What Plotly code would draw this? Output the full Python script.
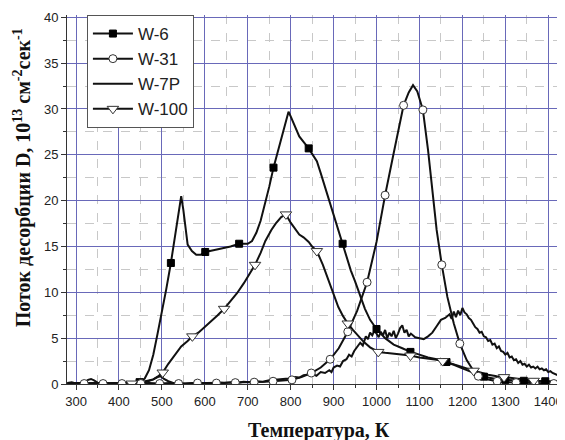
import plotly.graph_objects as go

# ---------------- data ----------------
W6_T = [280, 300, 320, 340, 360, 380, 400, 420, 440, 448, 460, 470, 480, 490, 500, 510, 521, 530, 538, 545,
        550, 555, 560, 570, 580, 590, 601, 620, 640, 660, 680, 700, 710, 720, 730, 740, 750, 760, 770, 780,
        790, 795, 800, 810, 820, 830, 842, 850, 861, 870, 880, 890, 900, 910, 921, 930, 940, 950, 960, 973,
        985, 1000, 1020, 1040, 1060, 1079, 1100, 1120, 1140, 1163, 1180, 1200, 1220, 1235, 1250, 1270, 1285,
        1300, 1320, 1343, 1370, 1393, 1420, 1440]
W6_D = [0.1, 0.05, 0.1, 0.05, 0.1, 0.05, 0.1, 0.1, 0.15, 0.2, 0.6, 1.5, 3.2, 5.5, 7.8, 10.3, 13.2, 15.8, 18.5, 20.5,
        19.0, 16.8, 15.2, 14.5, 14.1, 14.1, 14.4, 14.6, 14.8, 15.0, 15.3, 15.3, 15.6, 16.5, 17.8, 19.6, 21.5, 23.6, 25.4, 27.3,
        29.1, 29.7, 29.2, 28.0, 27.0, 26.4, 25.7, 25.1, 24.3, 23.0, 21.5, 20.0, 18.4, 16.8, 15.3, 13.8, 12.4, 11.2, 9.8, 8.2,
        7.0, 6.0, 5.0, 4.3, 3.9, 3.5, 3.2, 2.9, 2.7, 2.4, 2.1, 1.7, 1.3, 1.05, 0.8, 0.6, 0.5,
        0.45, 0.4, 0.35, 0.3, 0.3, 0.25, 0.2]
W6_MARK_T = [448, 521, 601, 680, 760, 842, 921, 1000, 1079, 1163, 1250, 1300, 1343, 1393]

W31_T = [280, 300, 319, 340, 363, 385, 407, 430, 451, 470, 495, 520, 539, 560, 583, 605, 627, 650, 671, 690,
         715, 740, 759, 780, 803, 825, 848, 870, 892, 912, 933, 955, 978, 1000, 1020, 1040, 1063, 1075, 1085, 1095,
         1108, 1120, 1130, 1140, 1152, 1165, 1180, 1194, 1210, 1225, 1237, 1260, 1281, 1300, 1325, 1350, 1369, 1390,
         1413, 1440]
W31_D = [0.05, 0.1, 0.05, 0.1, 0.05, 0.1, 0.05, 0.1, 0.05, 0.1, 0.05, 0.1, 0.05, 0.1, 0.1, 0.1, 0.1, 0.15, 0.15, 0.2,
         0.2, 0.25, 0.3, 0.35, 0.45, 0.75, 1.2, 1.8, 2.7, 3.9, 5.7, 8.0, 11.1, 15.5, 20.6, 25.2, 30.4, 31.8, 32.6, 31.9,
         29.9, 25.5, 21.0, 16.8, 13.0, 9.5, 6.6, 4.4, 2.6, 1.5, 0.85, 0.5, 0.3, 0.2, 0.15, 0.1, 0.1, 0.05,
         0.05, 0.05]
W31_MARK_T = [319, 363, 407, 451, 495, 539, 583, 627, 671, 715, 759, 803, 848, 892, 933, 978, 1020, 1063,
              1108, 1152, 1194, 1237, 1281, 1325, 1369, 1413]

W7P_T = [280, 290, 300, 310, 320, 328, 335, 342, 350, 360, 370, 380, 390, 400, 410, 420, 430, 440, 450, 460,
         470, 480, 490, 497, 505, 515, 525, 540, 555, 570, 585, 600, 615, 630, 645, 660, 675, 690, 705, 720,
         735, 750, 765, 780, 795, 810, 820, 830, 840, 850, 860, 870, 880, 890, 895, 900, 908, 915, 922, 930,
         936, 942, 948, 955, 962, 968, 975, 980, 985, 990, 995, 1000, 1005, 1010, 1015, 1020, 1025, 1030, 1035, 1040,
         1045, 1050, 1055, 1060, 1065, 1070, 1075, 1080, 1090, 1100, 1110, 1120, 1130, 1140, 1150, 1160, 1170, 1175,
         1180, 1185, 1190, 1195, 1200, 1205, 1210, 1215, 1220, 1225, 1230, 1235, 1240, 1245, 1250, 1255, 1260, 1265,
         1270, 1275, 1280, 1285, 1290, 1295, 1300, 1305, 1310, 1315, 1320, 1325, 1330, 1335, 1340, 1345, 1350, 1355,
         1360, 1365, 1370, 1375, 1380, 1385, 1390, 1395, 1400, 1405, 1410, 1420, 1430, 1440]
W7P_D = [0.1, 0.2, 0.05, 0.1, 0.15, 0.45, 0.55, 0.4, 0.15, 0.05, 0.1, 0.0, 0.1, 0.05, 0.1, 0.0, 0.1, 0.15, 0.2, 0.3,
         0.35, 0.5, 0.75, 0.85, 0.55, 0.3, 0.15, 0.1, 0.0, 0.1, 0.05, 0.1, 0.0, 0.15, 0.1, 0.2, 0.1, 0.25, 0.2, 0.3,
         0.25, 0.4, 0.45, 0.55, 0.6, 0.75, 0.7, 0.95, 1.0, 1.1, 0.9, 1.3, 1.2, 1.5, 1.3, 1.8, 2.0, 1.9, 2.5, 2.7,
         3.2, 3.0, 3.6, 4.1, 4.5, 4.2, 5.2, 4.9, 5.6, 5.3, 5.8, 5.5, 5.1, 5.7, 5.3, 5.9, 5.0, 5.6, 5.2, 5.8,
         5.0, 5.5, 6.1, 6.4, 5.6, 5.9, 5.2, 5.5, 5.1, 5.0, 4.9, 5.2, 5.6, 6.3, 7.0, 7.2, 7.6, 7.1,
         7.9, 7.3, 8.0, 7.5, 8.3, 7.8, 7.6, 7.2, 7.0, 6.6, 6.2, 6.0, 5.6, 5.7, 5.2, 5.1, 4.7, 4.8,
         4.3, 4.4, 3.9, 4.1, 3.6, 3.5, 3.2, 3.4, 2.9, 3.0, 2.6, 2.7, 2.3, 2.5, 2.1, 2.2, 1.9, 2.1,
         1.8, 1.9, 1.7, 1.9, 1.6, 1.7, 1.5, 1.6, 1.3, 1.4, 1.2, 1.0, 0.8, 0.6]

W100_T = [280, 300, 330, 360, 390, 430, 450, 465, 480, 490, 502, 515, 530, 545, 560, 571, 585, 602, 615, 630,
          645, 660, 675, 691, 705, 717, 730, 741, 755, 765, 778, 789, 800, 810, 820, 830, 842, 850, 861, 875,
          888, 900, 911, 922, 933, 945, 958, 970, 985, 1004, 1020, 1040, 1060, 1079, 1100, 1120, 1140, 1154, 1170, 1190,
          1210, 1226, 1245, 1260, 1280, 1297, 1320, 1345, 1366, 1390, 1410, 1440]
W100_D = [0.05, 0.1, 0.05, 0.1, 0.05, 0.05, 0.1, 0.25, 0.5, 0.8, 1.25, 2.2, 3.2, 4.1, 4.7, 5.2, 5.6, 6.3, 6.9, 7.5,
          8.2, 9.1, 9.9, 11.0, 12.0, 13.0, 14.3, 15.6, 16.8, 17.5, 18.2, 18.5, 17.6, 16.9, 16.3, 16.0, 15.5, 15.0, 14.5, 13.0,
          11.3, 9.8, 8.4, 7.4, 6.6, 5.9, 5.2, 4.6, 4.0, 3.5, 3.4, 3.3, 3.2, 3.1, 2.9, 2.8, 2.65, 2.5, 2.3, 2.0,
          1.7, 1.45, 1.2, 1.0, 0.85, 0.75, 0.6, 0.45, 0.35, 0.3, 0.25, 0.2]
W100_MARK_T = [430, 502, 571, 645, 717, 789, 861, 933, 1004, 1079, 1154, 1226, 1297, 1366]

SERIES = ["W-6", "W-31", "W-7P", "W-100"]
X_TITLE = "Температура, К"
Y_TITLE = "Поток десорбции D, 10<sup>13</sup> см<sup>-2</sup>сек<sup>-1</sup>"

# ---------------- figure ----------------
LINE_COLOR = "#111111"
SERIF = "Liberation Serif, Times New Roman, serif"
SANS = "Liberation Sans, Arial, sans-serif"
fig = go.Figure()

line_data = [(W6_T, W6_D), (W31_T, W31_D), (W7P_T, W7P_D), (W100_T, W100_D)]
for T, D in line_data:
    fig.add_trace(go.Scatter(x=T, y=D, mode="lines", line=dict(color=LINE_COLOR, width=2),
                             showlegend=False, hoverinfo="skip"))

marker_styles = [
    dict(symbol="square", size=7, color="#000000", line=dict(color="#000000", width=1)),
    dict(symbol="circle", size=8, color="#ffffff", line=dict(color="#333333", width=1)),
    None,
    dict(symbol="triangle-down", size=10, color="#ffffff", line=dict(color="#333333", width=1)),
]
marker_lists = [W6_MARK_T, W31_MARK_T, None, W100_MARK_T]

for (T, D), ms, mt in zip(line_data, marker_styles, marker_lists):
    if ms is None:
        continue
    idx = [T.index(t) for t in mt]
    fig.add_trace(go.Scatter(x=[T[i] for i in idx], y=[D[i] for i in idx], mode="markers",
                             marker=ms, showlegend=False, hoverinfo="skip"))

# legend entries
for name, ms in zip(SERIES, marker_styles):
    fig.add_trace(go.Scatter(x=[None], y=[None], name=name,
                             mode="lines+markers" if ms else "lines",
                             line=dict(color=LINE_COLOR, width=2),
                             marker=ms if ms else None))

axis_common = dict(
    showline=True, linecolor="#333333", linewidth=1,
    ticks="outside", ticklen=5, tickcolor="#333333", tickwidth=1,
    showgrid=True, gridcolor="rgb(105,105,185)", gridwidth=1,
    zeroline=False,
    tickfont=dict(family=SANS, size=13, color="#222222"),
)

fig.update_layout(
    width=557, height=432,
    margin=dict(l=59, r=0, t=7, b=56),
    paper_bgcolor="white", plot_bgcolor="white",
    xaxis=dict(
        range=[279, 1439], tick0=300, dtick=100,
        minor=dict(dtick=50, ticks="outside", ticklen=3, tickcolor="#333333",
                   showgrid=True, gridcolor="#c8c8c8", griddash="dash", gridwidth=1),
        **axis_common,
    ),
    yaxis=dict(
        range=[0, 40.25], tick0=0, dtick=5,
        minor=dict(dtick=2.5, ticks="outside", ticklen=3, tickcolor="#333333",
                   showgrid=True, gridcolor="#c8c8c8", griddash="dash", gridwidth=1),
        **axis_common,
    ),
    legend=dict(
        x=0.04, y=1.0, xanchor="left", yanchor="top",
        bgcolor="white", bordercolor="#555555", borderwidth=1,
        font=dict(family=SANS, size=17, color="#222222"),
        itemwidth=40, tracegroupgap=0,
    ),
    annotations=[
        dict(text="<b>" + X_TITLE + "</b>", xref="paper", yref="paper", x=0.506, y=-0.125,
             xanchor="center", yanchor="middle", showarrow=False,
             font=dict(family=SERIF, size=20, color="#111111")),
        dict(text="<b>" + Y_TITLE + "</b>", xref="paper", yref="paper", x=-0.09, y=0.558,
             xanchor="center", yanchor="middle", showarrow=False, textangle=-90,
             font=dict(family=SERIF, size=20, color="#111111")),
    ],
)

fig.write_html("out.html")
